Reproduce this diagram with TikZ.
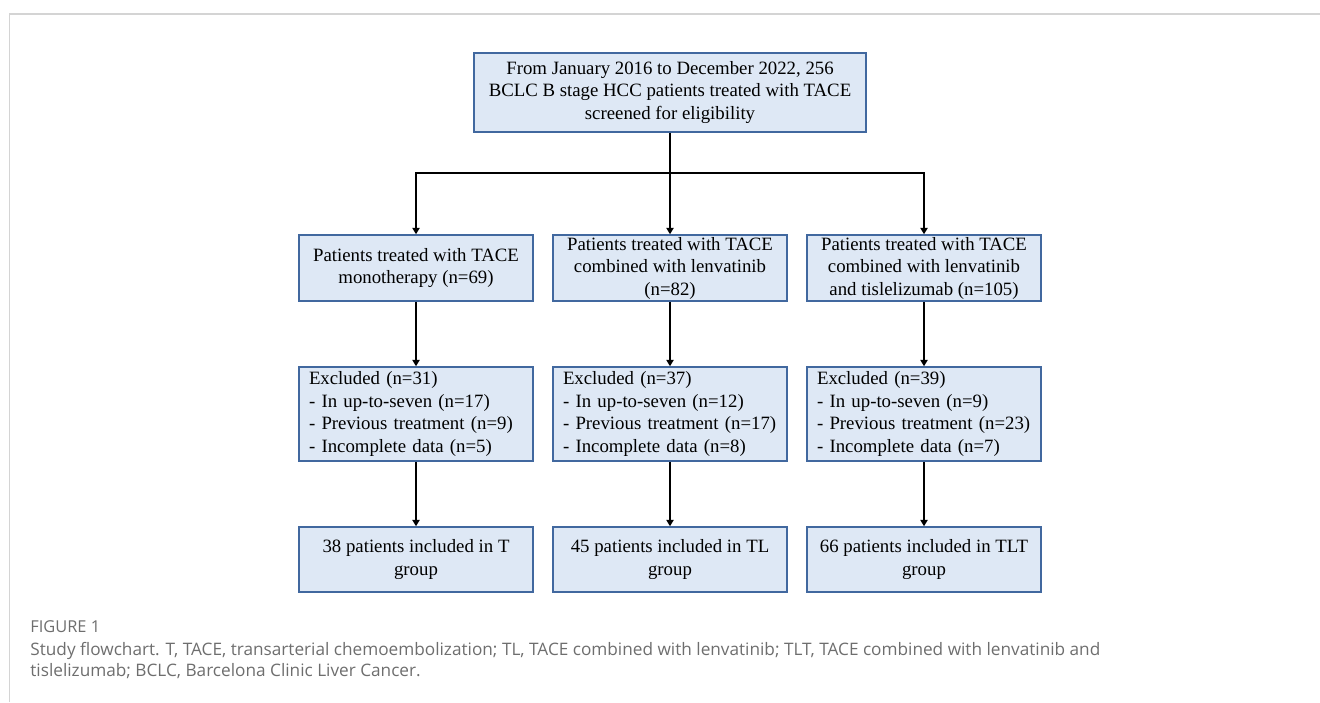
\documentclass[tikz,border=0pt]{standalone}
\usepackage{fontspec}
\setmainfont{Liberation Serif}
\newfontfamily\capfont{Open Sans}
\usepackage{tikz}
\usetikzlibrary{arrows.meta,positioning}
\definecolor{boxfill}{HTML}{DEE8F5}
\definecolor{boxline}{HTML}{41689F}
\definecolor{capgray}{HTML}{6E6E6E}
\definecolor{framegray}{HTML}{D4D4D4}

\begin{document}
\begin{tikzpicture}[x=0.5pt, y=-0.5pt, on grid, >={Triangle[length=3.2pt,width=3.6pt]},
    every node/.style={font=\fontsize{9.4}{11.25}\selectfont},
    flowbox/.style={draw=boxline, fill=boxfill, line width=0.75pt, inner sep=0pt, align=center, minimum width=117pt},
    topbox/.style={flowbox, minimum width=196pt, minimum height=39.5pt},
    grpbox/.style={flowbox, minimum height=33pt},
    exclbox/.style={flowbox, align=left, text width=107pt, inner xsep=5pt, minimum height=47pt},
    endbox/.style={flowbox, minimum height=32.5pt},
    link/.style={->, line width=1pt},
    captext/.style={text=capgray, anchor=base west, inner sep=0pt}]
    \useasboundingbox (0,0) rectangle (1320,702);
    \draw[framegray, line width=0.6pt] (9.5,702) -- (9.5,14) -- (1320,14);

    \node[topbox] (n_0) at (670,92.5) {From January 2016 to December 2022, 256\\BCLC B stage HCC patients treated with TACE\\screened for eligibility};

    \node[grpbox] (n_2) [below=87.75pt of n_0] {Patients treated with TACE\\combined with lenvatinib\\(n=82)};
    \node[grpbox] (n_1) [left=127pt of n_2] {Patients treated with TACE\\monotherapy (n=69)};
    \node[grpbox] (n_3) [right=127pt of n_2] {Patients treated with TACE\\combined with lenvatinib\\and tislelizumab (n=105)};

    \node[exclbox] (x_1) [below=73pt of n_1] {Excluded (n=31)\\- In up-to-seven (n=17)\\- Previous treatment (n=9)\\- Incomplete data (n=5)};
    \node[exclbox] (x_2) [below=73pt of n_2] {Excluded (n=37)\\- In up-to-seven (n=12)\\- Previous treatment (n=17)\\- Incomplete data (n=8)};
    \node[exclbox] (x_3) [below=73pt of n_3] {Excluded (n=39)\\- In up-to-seven (n=9)\\- Previous treatment (n=23)\\- Incomplete data (n=7)};

    \node[endbox] (r_1) [below=72.75pt of x_1] {38 patients included in T\\group};
    \node[endbox] (r_2) [below=72.75pt of x_2] {45 patients included in TL\\group};
    \node[endbox] (r_3) [below=72.75pt of x_3] {66 patients included in TLT\\group};

    \draw[link] (n_0.south) -- (n_2.north);
    \draw[link] (n_0.south) -- ++(0,-20pt) -| (n_1.north);
    \draw[link] (n_0.south) -- ++(0,-20pt) -| (n_3.north);
    \path[link]
        (n_1) edge (x_1)
        (n_2) edge (x_2)
        (n_3) edge (x_3)
        (x_1) edge (r_1)
        (x_2) edge (r_2)
        (x_3) edge (r_3);

    \node[captext, font=\capfont\fontsize{8.2}{9}\selectfont] (cap_0) at (30,632) {FIGURE 1};
    \node[captext, font=\capfont\fontsize{8.6}{10.5}\selectfont] (cap_1) at (30,655) {Study flowchart. T, TACE, transarterial chemoembolization; TL, TACE combined with lenvatinib; TLT, TACE combined with lenvatinib and};
    \node[captext, font=\capfont\fontsize{8.6}{10.5}\selectfont] (cap_2) at (30,676) {tislelizumab; BCLC, Barcelona Clinic Liver Cancer.};
\end{tikzpicture}
\end{document}
